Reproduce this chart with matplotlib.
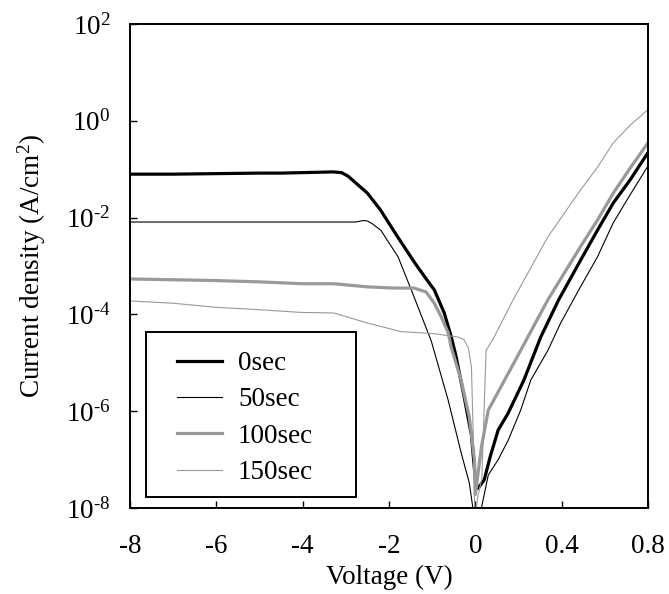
import numpy as np
import matplotlib
matplotlib.use("Agg")
import matplotlib.pyplot as plt
from matplotlib.patches import Rectangle

plt.rcParams["font.family"] = ["Liberation Serif", "DejaVu Serif"]
plt.rcParams["mathtext.fontset"] = "custom"
plt.rcParams["mathtext.rm"] = "Liberation Serif"
plt.rcParams["mathtext.it"] = "Liberation Serif:italic"
plt.rcParams["font.size"] = 19.5

# 0sec
v_0 = [-8, -7, -6, -5, -4.5, -4, -3.5, -3.3, -3.1, -2.95, -2.8, -2.5, -2.2, -1.8,
       -1.4, -1.15, -0.95, -0.72, -0.56, -0.45, -0.26, -0.09, -0.02, 0.005, 0.014,
       0.041, 0.07, 0.106, 0.152, 0.225, 0.303, 0.386, 0.487, 0.566, 0.639, 0.717,
       0.8]
j_0 = [7.9e-2, 7.9e-2, 8.1e-2, 8.3e-2, 8.3e-2, 8.5e-2, 8.7e-2, 8.8e-2, 8.5e-2,
       7.2e-2, 5.5e-2, 3.2e-2, 1.45e-2, 4.0e-3, 1.15e-3, 5.6e-4, 3.2e-4, 1.07e-4,
       3.5e-5, 1.4e-5, 2.0e-6, 3.2e-7, 6.3e-8, 2.5e-8, 2.6e-8, 3.8e-8, 1.2e-7,
       4.1e-7, 9.1e-7, 4.4e-6, 3.4e-5, 2.0e-4, 1.3e-3, 5.5e-3, 2.0e-2, 6.0e-2,
       2.2e-1]

# 50sec
v_50 = [-8, -6, -4, -3.0, -2.77, -2.6, -2.5, -2.4, -2.19, -2.0, -1.79, -1.42, -1.02,
        -0.63, -0.33, -0.14, -0.05, 0.0, 0.028, 0.06, 0.106, 0.152, 0.21, 0.257,
        0.336, 0.395, 0.487, 0.566, 0.639, 0.717, 0.8]
j_50 = [8.1e-3, 8.1e-3, 8.1e-3, 8.1e-3, 8.1e-3, 8.7e-3, 8.5e-3, 7.6e-3, 5.5e-3,
        3.0e-3, 1.55e-3, 2.3e-4, 2.8e-5, 1.7e-6, 1.4e-7, 3.3e-8, 9.1e-9, 2.5e-9,
        1.0e-8, 4.8e-8, 1.0e-7, 2.5e-7, 1.05e-6, 4.4e-6, 1.8e-5, 6.6e-5, 3.7e-4,
        1.55e-3, 7.8e-3, 2.95e-2, 1.17e-1]

# 100sec
v_100 = [-8, -7, -6, -5, -4, -3.28, -2.49, -1.88, -1.42, -1.14, -0.95, -0.79, -0.63,
         -0.56, -0.33, -0.14, -0.02, 0.0, 0.028, 0.06, 0.179, 0.336, 0.487, 0.566,
         0.639, 0.717, 0.8]
j_100 = [5.4e-4, 5.2e-4, 5.0e-4, 4.7e-4, 4.3e-4, 4.3e-4, 3.7e-4, 3.5e-4, 3.5e-4,
         2.9e-4, 1.7e-4, 8.9e-5, 4.2e-5, 2.1e-5, 4.4e-6, 7.6e-7, 9.8e-8, 1.9e-8,
         1.8e-7, 1.05e-6, 1.0e-5, 2.0e-4, 2.5e-3, 8.9e-3, 3.2e-2, 1.05e-1, 3.5e-1]

# 150sec
v_150 = [-8, -7, -6, -5, -4.05, -3.28, -2.49, -1.72, -1.33, -0.95, -0.40, -0.26,
         -0.16, -0.09, -0.05, -0.02, 0.0, 0.01, 0.03, 0.041, 0.05, 0.087, 0.175,
         0.336, 0.487, 0.566, 0.639, 0.717, 0.8]
j_150 = [1.9e-4, 1.7e-4, 1.4e-4, 1.25e-4, 1.1e-4, 1.07e-4, 6.6e-5, 4.4e-5, 4.2e-5,
         4.0e-5, 3.4e-5, 3.0e-5, 2.0e-5, 8.1e-6, 3.5e-7, 1.5e-8, 6.3e-9, 1.6e-8,
         4.0e-8, 1.2e-6, 1.8e-5, 3.4e-5, 2.0e-4, 4.0e-3, 3.7e-2, 1.1e-1, 3.5e-1,
         8.1e-1, 1.7]

x_ticks = [-8, -6, -4, -2, 0, 0.4, 0.8]
x_labels = ["-8", "-6", "-4", "-2", "0", "0.4", "0.8"]
y_ticks = [1e-8, 1e-6, 1e-4, 1e-2, 1e0, 1e2]
y_labels = ["10$^{\u20108}$", "10$^{\u20106}$", "10$^{\u20104}$",
            "10$^{\u20102}$", "10$^{0}$", "10$^{2}$"]


# negative side compressed 5x so 2 V and 0.4 V ticks are evenly spaced
def fwd(x):
    x = np.asarray(x, dtype=float)
    return np.where(x < 0, x / 5.0, x)


def inv(u):
    u = np.asarray(u, dtype=float)
    return np.where(u < 0, u * 5.0, u)


fig = plt.figure(figsize=(6.69, 5.94), dpi=100)
ax = fig.add_axes([130 / 669, 1 - 508 / 594, 518 / 669, 484 / 594])

ax.plot(v_0, j_0, color="black", lw=2.3, label="0sec")
ax.plot(v_50, j_50, color="black", lw=0.8, label="50sec")
ax.plot(v_100, j_100, color="#999999", lw=2.3, label="100sec")
ax.plot(v_150, j_150, color="#999999", lw=0.8, label="150sec")

ax.set_xscale("function", functions=(fwd, inv))
ax.set_yscale("log")
ax.set_xlim(-8, 0.8)
ax.set_ylim(1e-8, 1e2)

ax.set_xticks(x_ticks)
ax.set_xticklabels(x_labels)
ax.set_yticks(y_ticks)
ax.set_yticklabels(y_labels)
ax.minorticks_off()
ax.tick_params(direction="in", length=5, width=1)
ax.tick_params(axis="x", pad=19)
ax.tick_params(axis="y", pad=14)
for s in ax.spines.values():
    s.set_linewidth(1.4)

ax.set_xlabel("Voltage (V)", labelpad=4)
ax.set_ylabel("Current density (A/cm$^{2}$)", labelpad=13)

# legend frame drawn as a plain rectangle
ax.add_patch(Rectangle((16 / 518, 11 / 484), 210 / 518, 165 / 484,
                       transform=ax.transAxes, fill=False, lw=1.4,
                       edgecolor="black", zorder=5))
ax.legend(loc="upper left", bbox_to_anchor=(47 / 518, 157 / 484), frameon=False,
          borderpad=0, handlelength=1.65, handletextpad=0.6, labelspacing=0.42,
          borderaxespad=0)

fig.savefig("out.png", dpi=100)
